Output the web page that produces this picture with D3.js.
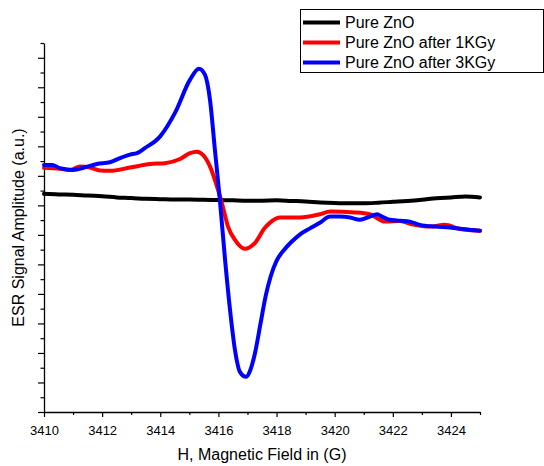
<!DOCTYPE html>
<html>
<head>
<meta charset="utf-8">
<script src="https://cdn.jsdelivr.net/npm/d3@7"></script>
<style>
  html, body { margin: 0; padding: 0; background: #fff; }
  svg { display: block; font-family: "Liberation Sans", Arial, sans-serif; }
</style>
</head>
<body>
<svg id="chart" width="544" height="466"></svg>
<script>
// ---- data ----
const seriesNames = ["Pure ZnO", "Pure ZnO after 1KGy", "Pure ZnO after 3KGy"];
const seriesColors = ["#000000", "#ff0000", "#0000ff"];

const pureField = [3410.0,3410.5,3411.0,3411.5,3412.0,3412.5,3413.0,3413.5,3414.0,3414.5,3415.0,3415.5,3416.0,3416.5,3417.0,3417.5,3418.0,3418.5,3419.0,3419.5,3420.0,3420.5,3421.0,3421.5,3422.0,3422.5,3423.0,3423.5,3424.0,3424.5,3425.0];
const pureAmp   = [7.39,7.37,7.36,7.33,7.31,7.27,7.25,7.22,7.21,7.20,7.20,7.19,7.18,7.17,7.16,7.16,7.17,7.15,7.13,7.10,7.08,7.07,7.07,7.09,7.12,7.15,7.19,7.24,7.27,7.30,7.27];

const kgy1Field = [3410.00,3410.55,3410.89,3411.24,3411.58,3411.93,3412.27,3412.96,3413.65,3414.16,3414.68,3415.02,3415.26,3415.47,3415.71,3415.95,3416.12,3416.33,3416.57,3416.91,3417.26,3417.60,3417.84,3418.12,3418.81,3419.49,3419.84,3420.70,3421.21,3421.73,3422.25,3422.66,3423.28,3423.79,3424.31,3425.00];
const kgy1Amp   = [8.27,8.24,8.20,8.32,8.28,8.18,8.17,8.28,8.40,8.43,8.57,8.77,8.82,8.71,8.32,7.64,7.08,6.28,5.83,5.53,5.73,6.24,6.47,6.59,6.59,6.70,6.79,6.76,6.70,6.45,6.47,6.36,6.28,6.34,6.20,6.14];

const kgy3Field = [3410.00,3410.28,3410.55,3411.00,3411.41,3411.82,3412.27,3412.61,3412.96,3413.20,3413.47,3413.99,3414.51,3415.02,3415.33,3415.54,3415.71,3415.88,3416.05,3416.23,3416.40,3416.57,3416.74,3416.95,3417.09,3417.26,3417.45,3417.62,3417.80,3418.00,3418.25,3418.50,3418.81,3419.15,3419.49,3419.84,3420.18,3420.53,3420.87,3421.21,3421.46,3421.63,3421.90,3422.25,3422.59,3422.93,3423.45,3423.97,3424.48,3425.00];
const kgy3Amp   = [8.37,8.37,8.26,8.20,8.29,8.40,8.46,8.60,8.72,8.77,8.94,9.33,10.14,11.25,11.63,11.42,10.58,8.88,7.19,5.15,3.46,2.10,1.36,1.19,1.40,2.00,3.00,3.90,4.60,5.12,5.48,5.75,6.02,6.22,6.41,6.62,6.62,6.59,6.51,6.62,6.70,6.62,6.51,6.48,6.45,6.34,6.28,6.25,6.19,6.14];

const xMajorTicks = [3410, 3412, 3414, 3416, 3418, 3420, 3422, 3424];
const xMinorTicks = [3411, 3413, 3415, 3417, 3419, 3421, 3423, 3425];
const yMajorTicks = [0,1,2,3,4,5,6,7,8,9,10,11,12];
const yMinorTicks = [0.5,1.5,2.5,3.5,4.5,5.5,6.5,7.5,8.5,9.5,10.5,11.5,12.5];

const xTitle = "H, Magnetic Field in (G)";
const yTitle = "ESR Signal Amplitude (a.u.)";

// ---- layout ----
const svg = d3.select("#chart");
const plotLeft = 44, plotRight = 480, plotTop = 43, plotBottom = 412;

const x = d3.scaleLinear().domain([3410, 3425]).range([plotLeft, plotRight]);
const y = d3.scaleLinear().domain([0, 12.5]).range([plotBottom, plotTop]);

// axes
const gx = svg.append("g").attr("transform", `translate(0,${plotBottom})`);
gx.call(d3.axisBottom(x).tickValues(xMajorTicks).tickSize(5).tickSizeOuter(0).tickFormat(d3.format("d")));
const gxm = svg.append("g").attr("transform", `translate(0,${plotBottom})`);
gxm.call(d3.axisBottom(x).tickValues(xMinorTicks).tickSize(3).tickSizeOuter(0).tickFormat(""));
gxm.select(".domain").remove();

const gy = svg.append("g").attr("transform", `translate(${plotLeft},0)`);
gy.call(d3.axisLeft(y).tickValues(yMajorTicks).tickSize(6).tickSizeOuter(0).tickFormat(""));
const gym = svg.append("g").attr("transform", `translate(${plotLeft},0)`);
gym.call(d3.axisLeft(y).tickValues(yMinorTicks).tickSize(3.5).tickSizeOuter(0).tickFormat(""));
gym.select(".domain").remove();

svg.selectAll(".domain").attr("stroke", "#000").attr("stroke-width", 1.3);
svg.selectAll(".tick line").attr("stroke", "#000").attr("stroke-width", 1.2);
gx.selectAll(".tick text")
  .attr("font-family", '"Liberation Sans", Arial, sans-serif')
  .attr("font-size", 13).attr("fill", "#000").attr("dy", "1.15em");

// titles
svg.append("text").attr("x", (plotLeft + plotRight) / 2).attr("y", 460)
  .attr("text-anchor", "middle").attr("font-size", 16).attr("fill", "#000").text(xTitle);
svg.append("text").attr("transform", `translate(24,${(plotTop + plotBottom) / 2}) rotate(-90)`)
  .attr("text-anchor", "middle").attr("font-size", 16).attr("fill", "#000").text(yTitle);

// lines
const series = [
  { name: seriesNames[0], color: seriesColors[0], xs: pureField, ys: pureAmp },
  { name: seriesNames[1], color: seriesColors[1], xs: kgy1Field, ys: kgy1Amp },
  { name: seriesNames[2], color: seriesColors[2], xs: kgy3Field, ys: kgy3Amp }
];
const line = d3.line().x(d => x(d[0])).y(d => y(d[1])).curve(d3.curveMonotoneX);
series.forEach(s => {
  svg.append("path")
    .datum(s.xs.map((v, i) => [v, s.ys[i]]))
    .attr("fill", "none").attr("stroke", s.color).attr("stroke-width", 4)
    .attr("stroke-linejoin", "round").attr("stroke-linecap", "round")
    .attr("d", line);
});

// legend
const lg = svg.append("g");
lg.append("rect").attr("x", 300.5).attr("y", 9.5).attr("width", 243).attr("height", 63)
  .attr("fill", "#fff").attr("stroke", "#000").attr("stroke-width", 1);
series.forEach((s, i) => {
  const yy = 22.5 + i * 20;
  lg.append("line").attr("x1", 303).attr("x2", 340).attr("y1", yy).attr("y2", yy)
    .attr("stroke", s.color).attr("stroke-width", 4);
  lg.append("text").attr("x", 345).attr("y", yy).attr("dy", "0.36em")
    .attr("font-size", 16).attr("fill", "#000").text(s.name);
});
</script>
</body>
</html>
